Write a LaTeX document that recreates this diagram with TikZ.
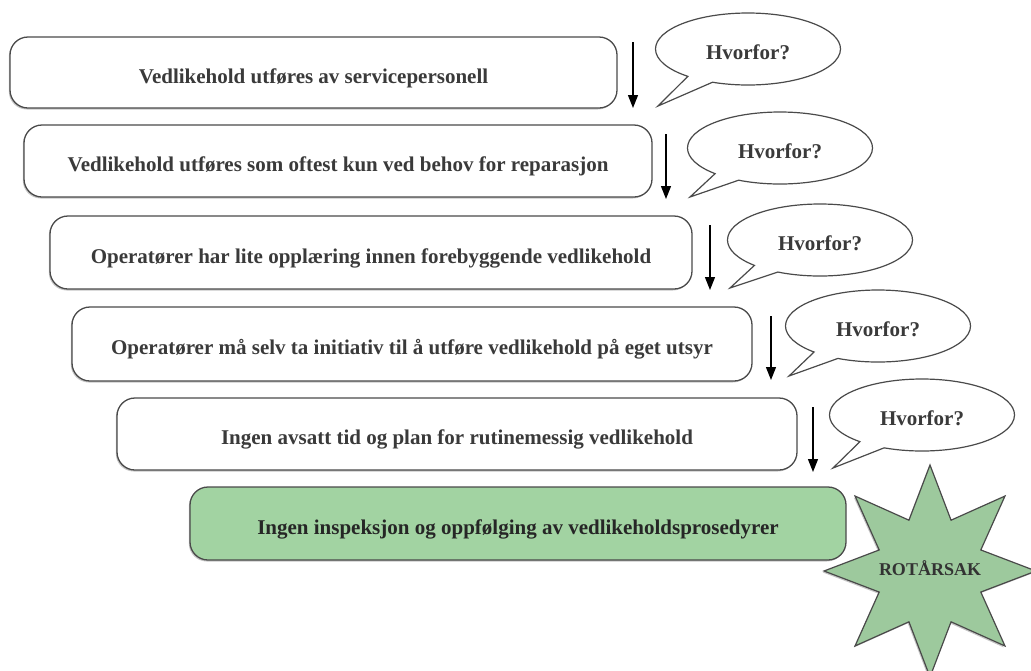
\documentclass[tikz,border=0pt]{standalone}
\usepackage{fontspec}
\setmainfont{Liberation Serif}
\usetikzlibrary{shapes.callouts,shadows,arrows.meta}
\definecolor{boxline}{HTML}{4A4A4A}
\definecolor{txtgray}{HTML}{3A3A3A}
\definecolor{boxgreen}{HTML}{A2D3A2}
\definecolor{stargreen}{HTML}{9DC99D}
\begin{document}
\begin{tikzpicture}[x=1pt,y=-1pt,
  stepbox/.style={draw=boxline, line width=1.3pt, rounded corners=18pt, fill=white,
    font=\bfseries\fontsize{21}{24}\selectfont, text=txtgray, text height=21pt, text depth=0pt,
    drop shadow={shadow xshift=-1.2pt, shadow yshift=-1.5pt, opacity=0.45}},
  rootbox/.style={stepbox, fill=boxgreen, text=black!85},
  why/.style={ellipse callout, draw=boxline, line width=1.2pt, fill=white,
    minimum width=185pt, minimum height=72pt, callout pointer arc=18, inner sep=0pt,
    font=\bfseries\fontsize{21}{24}\selectfont, text=txtgray, text height=20pt, text depth=0pt},
  arr/.style={-{Triangle[length=13pt,width=10pt]}, line width=1.3pt, black},
  starshape/.style={draw=boxline, line width=1.2pt, fill=stargreen, line join=miter,
    drop shadow={shadow xshift=-1.2pt, shadow yshift=-1.5pt, opacity=0.45}},
  startext/.style={font=\bfseries\fontsize{18}{20}\selectfont, text=black!80, text height=8pt, text depth=0pt}]
\useasboundingbox (0,0) rectangle (1031,670);

\node[stepbox, minimum width=607pt, minimum height=71pt] (b1) at (313.5,72.5) {Vedlikehold utføres av servicepersonell};
\node[stepbox, minimum width=628pt, minimum height=72pt] (b2) at (338,161) {Vedlikehold utføres som oftest kun ved behov for reparasjon};
\node[stepbox, minimum width=642pt, minimum height=73pt] (b3) at (371,252.5) {Operatører har lite opplæring innen forebyggende vedlikehold};
\node[stepbox, minimum width=680pt, minimum height=74pt] (b4) at (412,344) {Operatører må selv ta initiativ til å utføre vedlikehold på eget utsyr};
\node[stepbox, minimum width=680pt, minimum height=72pt] (b5) at (457,434) {Ingen avsatt tid og plan for rutinemessig vedlikehold};
\node[rootbox, minimum width=656pt, minimum height=73pt] (b6) at (518,523.5) {Ingen inspeksjon og oppfølging av vedlikeholdsprosedyrer};

\node[why, callout absolute pointer={(658,106)}] (w1) at (748,49) {Hvorfor?};
\node[why, callout absolute pointer={(690,197)}] (w2) at (780,148) {Hvorfor?};
\node[why, callout absolute pointer={(730,288)}] (w3) at (820,240) {Hvorfor?};
\node[why, callout absolute pointer={(789,376)}] (w4) at (878,326) {Hvorfor?};
\node[why, callout absolute pointer={(833,468)}] (w5) at (922,415) {Hvorfor?};

\coordinate (a1s) at (633,42);  \coordinate (a1e) at (633,108);
\coordinate (a2s) at (666,134); \coordinate (a2e) at (666,199);
\coordinate (a3s) at (710,225); \coordinate (a3e) at (710,290);
\coordinate (a4s) at (771,316); \coordinate (a4e) at (771,380);
\coordinate (a5s) at (813,407); \coordinate (a5e) at (813,472);
\draw[arr] (a1s) -- (a1e);
\draw[arr] (a2s) -- (a2e);
\draw[arr] (a3s) -- (a3e);
\draw[arr] (a4s) -- (a4e);
\draw[arr] (a5s) -- (a5e);

\draw[starshape, shift={(930,571)}] (90:106)
  \foreach \i in {0,...,7}{ -- ({112.5+45*\i}:55) -- ({135+45*\i}:106) } -- cycle;
\node[startext] (rs) at (930,571) {ROTÅRSAK};
\end{tikzpicture}
\end{document}
